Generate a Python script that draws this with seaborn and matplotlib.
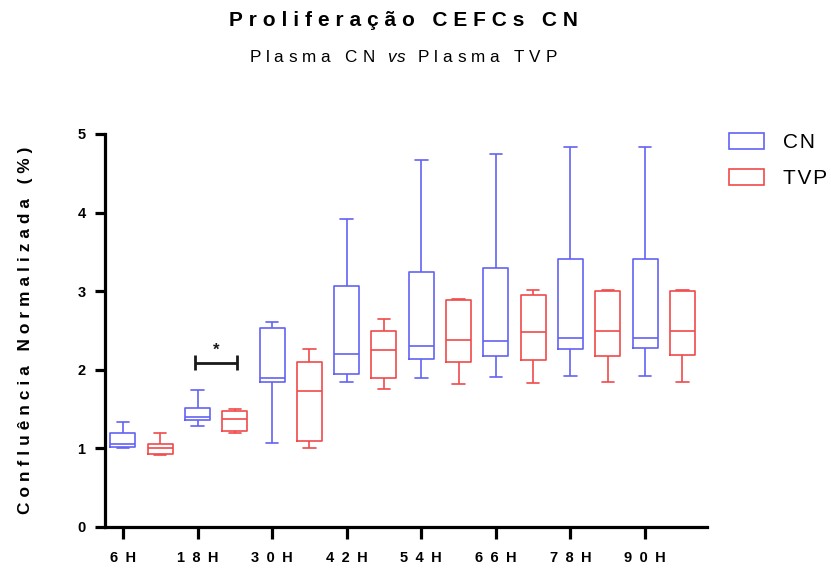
import numpy as np
import pandas as pd
import seaborn as sns
import matplotlib.pyplot as plt
from matplotlib.patches import Patch

# Time points and groups
timepoints = ["6H", "18H", "30H", "42H", "54H", "66H", "78H", "90H"]
groups = ["CN", "TVP"]

# Five-number summaries (min, Q1, median, Q3, max) per time point
cn_min = [1.00, 1.29, 1.07, 1.84, 1.90, 1.91, 1.92, 1.92]
cn_q1 = [1.02, 1.36, 1.84, 1.95, 2.14, 2.18, 2.26, 2.28]
cn_median = [1.06, 1.40, 1.90, 2.20, 2.30, 2.365, 2.41, 2.41]
cn_q3 = [1.20, 1.51, 2.53, 3.06, 3.24, 3.30, 3.41, 3.41]
cn_max = [1.33, 1.74, 2.61, 3.92, 4.675, 4.75, 4.84, 4.84]

tvp_min = [0.91, 1.20, 1.00, 1.75, 1.82, 1.835, 1.85, 1.85]
tvp_q1 = [0.935, 1.22, 1.10, 1.90, 2.10, 2.12, 2.18, 2.19]
tvp_median = [1.00, 1.38, 1.73, 2.25, 2.38, 2.48, 2.50, 2.50]
tvp_q3 = [1.06, 1.48, 2.10, 2.50, 2.884, 2.95, 3.00, 3.00]
tvp_max = [1.20, 1.495, 2.27, 2.64, 2.90, 3.01, 3.015, 3.015]

# Significance annotation between CN and TVP at 18H
sig_timepoint = "18H"
sig_label = "*"

summaries = {
    "CN": [cn_min, cn_q1, cn_median, cn_q3, cn_max],
    "TVP": [tvp_min, tvp_q1, tvp_median, tvp_q3, tvp_max],
}

# Long table: each box gets its five summary values, which reproduce
# exactly those quartiles with whiskers spanning min to max
rows = []
for i, tp in enumerate(timepoints):
    for j, g in enumerate(groups):
        for stat in summaries[g]:
            rows.append({"tempo": tp, "grupo": g, "pos": 2 * i + j, "valor": stat[i]})
df = pd.DataFrame(rows)


def tracked(s, gap="\u2009\u200a"):
    """Letter-spaced version of a string (wide tracking)."""
    return gap.join(s)


sns.set_style("white")
plt.rcParams["font.family"] = ["Liberation Sans", "DejaVu Sans"]
plt.rcParams["text.color"] = "black"
plt.rcParams["axes.labelcolor"] = "black"
plt.rcParams["xtick.color"] = "black"
plt.rcParams["ytick.color"] = "black"
plt.rcParams["mathtext.fontset"] = "custom"
plt.rcParams["mathtext.rm"] = "Liberation Sans"
plt.rcParams["mathtext.it"] = "Liberation Sans:italic"

palette = {"CN": "#6262F2", "TVP": "#F04A4A"}

fig = plt.figure(figsize=(8.31, 5.74), dpi=100)
ax = fig.add_axes([105 / 831, 47 / 574, 602 / 831, 393 / 574])

sns.boxplot(
    data=df, x="pos", y="valor", hue="grupo", palette=palette,
    native_scale=True, dodge=False, fill=False, whis=(0, 100),
    width=0.67, linewidth=1.2, legend=False, ax=ax,
)

ax.set_xlim(-0.48, 15.66)
ax.set_ylim(0, 5)
ax.set_yticks(range(0, 6))
ax.set_xticks([2 * i for i in range(len(timepoints))])
ax.set_xticklabels([tracked(t, "\u2002") for t in timepoints])
ax.set_xlabel("")
ax.set_ylabel(tracked("Confluência Normalizada (%)"), fontsize=12.4, fontweight="bold")
ax.yaxis.set_label_coords(-0.119, 0.5)

for side in ["top", "right"]:
    ax.spines[side].set_visible(False)
for side in ["left", "bottom"]:
    ax.spines[side].set_linewidth(2.3)
    ax.spines[side].set_color("black")
ax.tick_params(axis="both", which="major", direction="out", width=2.3,
               color="black", labelsize=10.5)
ax.tick_params(axis="y", left=True, length=7, pad=7)
ax.tick_params(axis="x", bottom=True, length=8.5, pad=9)
for lab in ax.get_xticklabels() + ax.get_yticklabels():
    lab.set_fontweight("bold")

# Significance bracket
k = timepoints.index(sig_timepoint)
x0, x1 = 2 * k - 0.06, 2 * k + 1.06
yb, h = 2.09, 0.095
bracket = dict(color="#1a1a1a", lw=2.0, solid_capstyle="butt")
ax.plot([x0, x1], [yb, yb], **bracket)
ax.plot([x0, x0], [yb - h, yb + h], **bracket)
ax.plot([x1, x1], [yb - h, yb + h], **bracket)
ax.text((x0 + x1) / 2, yb + 0.06, sig_label, ha="center", va="bottom",
        fontsize=12, fontweight="bold", color="#1a1a1a")

# Legend
handles = [Patch(facecolor="white", edgecolor=palette[g], linewidth=1.2,
                 label=tracked(g, "\u200a")) for g in groups]
fig.legend(handles=handles, loc="upper left", bbox_to_anchor=(729 / 831, 1 - 133 / 574),
           frameon=False, fontsize=15, handlelength=1.68, handleheight=0.82,
           labelspacing=0.78, handletextpad=0.9, borderpad=0, borderaxespad=0)

# Titles
fig.text(403 / 831, 1 - 20 / 574, tracked("Proliferação CEFCs CN"), ha="center",
         va="center", fontsize=15, fontweight="bold")
fig.text(403 / 831, 1 - 57 / 574,
         tracked("Plasma CN ") + "\u2009" + "$\\mathit{vs}$" + "\u2009" + tracked(" Plasma TVP"),
         ha="center", va="center", fontsize=12.3)

fig.savefig("out.png", dpi=100, facecolor="white")
